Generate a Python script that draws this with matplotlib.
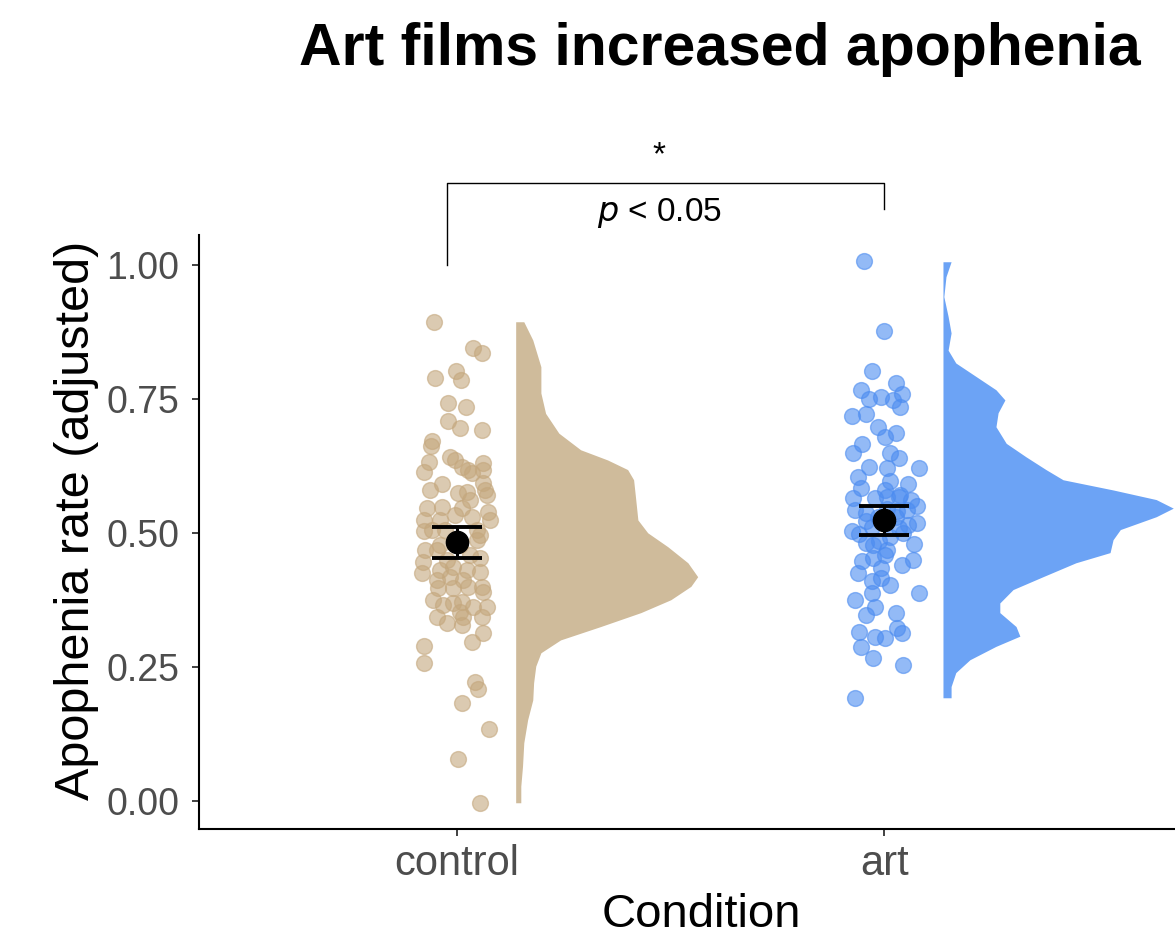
#!/usr/bin/env python3
# -*- coding: utf-8 -*-
"""
Raincloud plot: apophenia rate (adjusted) per condition, with jittered points,
mean +/- error bars and a half density to the right of each group.
"""
#%%
import numpy as np
import matplotlib.pyplot as plt

#%%
"""
Dados
"""
conditions = ["control", "art"]

# pontos individuais: valor e deslocamento do jitter (em unidades do eixo x)
control_vals = [0.894, 0.845, 0.836, 0.802, 0.789, 0.785, 0.743, 0.735, 0.709, 0.696,
                0.692, 0.672, 0.662, 0.632, 0.614, 0.642, 0.636, 0.623, 0.618, 0.612,
                0.631, 0.618, 0.593, 0.580, 0.571, 0.591, 0.575, 0.576, 0.547, 0.549,
                0.547, 0.539, 0.524, 0.524, 0.530, 0.524, 0.504, 0.506, 0.496, 0.487,
                0.478, 0.468, 0.468, 0.446, 0.453, 0.431, 0.437, 0.425, 0.431, 0.427,
                0.412, 0.418, 0.412, 0.397, 0.397, 0.399, 0.399, 0.390, 0.375, 0.366,
                0.369, 0.371, 0.362, 0.362, 0.343, 0.353, 0.343, 0.343, 0.332, 0.328,
                0.313, 0.289, 0.297, 0.257, 0.222, 0.209, 0.183, 0.134, 0.078, -0.004,
                0.506, 0.534, 0.580, 0.459, 0.450, 0.478, 0.506, 0.562]
control_jit = [-0.054, 0.037, 0.059, -0.002, -0.052, 0.009, -0.021, 0.021, -0.021, 0.007,
               0.059, -0.059, -0.061, -0.066, -0.077, -0.016, -0.005, 0.012, 0.026, 0.035,
               0.061, 0.061, 0.061, 0.066, 0.070, -0.035, 0.002, 0.023, -0.070, -0.035,
               0.012, 0.073, -0.077, -0.040, 0.035, 0.077, -0.077, 0.047, 0.054, 0.047,
               -0.040, -0.075, -0.047, -0.080, 0.054, -0.040, -0.009, -0.082, 0.023, 0.054,
               -0.047, -0.016, 0.014, -0.044, -0.009, 0.026, 0.059, 0.061, -0.056, -0.033,
               -0.009, 0.012, 0.037, 0.070, -0.047, 0.007, 0.014, 0.059, -0.023, 0.012,
               0.061, -0.077, 0.035, -0.077, 0.042, 0.049, 0.012, 0.075, 0.002, 0.054,
               -0.028, -0.005, -0.063, 0.030, -0.023, 0.007, -0.059, 0.030]

art_vals = [1.007, 0.877, 0.802, 0.767, 0.780, 0.750, 0.754, 0.748, 0.759, 0.735,
            0.718, 0.722, 0.698, 0.679, 0.687, 0.666, 0.649, 0.649, 0.640, 0.623,
            0.621, 0.621, 0.604, 0.597, 0.591, 0.584, 0.580, 0.565, 0.565, 0.567,
            0.562, 0.543, 0.537, 0.550, 0.543, 0.519, 0.515, 0.504, 0.522, 0.481,
            0.500, 0.479, 0.468, 0.448, 0.459, 0.440, 0.453, 0.424, 0.410, 0.416,
            0.403, 0.388, 0.388, 0.375, 0.362, 0.347, 0.351, 0.315, 0.306, 0.304,
            0.323, 0.313, 0.287, 0.267, 0.254, 0.192, 0.435, 0.450, 0.571, 0.567,
            0.530, 0.530, 0.511, 0.493, 0.485, 0.545, 0.509, 0.540, 0.477, 0.498]
art_jit = [-0.047, -0.002, -0.028, -0.056, 0.026, -0.037, -0.007, 0.019, 0.040, 0.037,
           -0.077, -0.044, -0.016, 0.002, 0.028, -0.052, -0.073, 0.014, 0.033, -0.035,
           0.007, 0.080, -0.063, 0.014, 0.054, -0.056, 0.002, -0.073, -0.021, 0.033,
           0.061, -0.068, -0.042, 0.077, 0.052, 0.077, 0.056, -0.075, -0.044, -0.044,
           0.044, 0.070, 0.005, -0.052, 0.002, 0.042, -0.026, -0.061, -0.030, -0.009,
           0.014, -0.028, 0.080, -0.068, -0.023, -0.042, 0.026, -0.059, -0.021, 0.002,
           0.030, 0.042, -0.056, -0.026, 0.044, -0.070, -0.009, 0.068, 0.037, 0.007,
           -0.014, 0.026, -0.030, 0.014, -0.012, 0.005, 0.033, 0.030, -0.026, -0.060]

# média e barras de erro
means = [0.483, 0.524]
err_low = [0.453, 0.496]
err_high = [0.511, 0.550]

# perfil das densidades (nível y, largura em unidades do eixo x)
control_dens_y = [0.894, 0.860, 0.810, 0.761, 0.723, 0.686, 0.655, 0.636, 0.618, 0.599,
                  0.562, 0.524, 0.500, 0.474, 0.444, 0.418, 0.400, 0.375, 0.351, 0.325,
                  0.300, 0.276, 0.251, 0.220, 0.188, 0.151, 0.108, 0.064, 0.027, -0.004]
control_dens_w = [0.019, 0.040, 0.059, 0.059, 0.070, 0.101, 0.152, 0.215, 0.262, 0.276,
                  0.281, 0.286, 0.309, 0.356, 0.403, 0.426, 0.410, 0.363, 0.293, 0.199,
                  0.105, 0.059, 0.047, 0.042, 0.040, 0.028, 0.019, 0.016, 0.012, 0.012]

art_dens_y = [1.006, 0.978, 0.941, 0.904, 0.873, 0.841, 0.817, 0.792, 0.767, 0.748,
              0.724, 0.698, 0.667, 0.642, 0.618, 0.599, 0.580, 0.562, 0.546, 0.530,
              0.506, 0.487, 0.463, 0.444, 0.418, 0.394, 0.369, 0.351, 0.325, 0.307,
              0.288, 0.263, 0.239, 0.213, 0.192]
art_dens_w = [0.019, 0.007, 0.002, 0.012, 0.019, 0.012, 0.030, 0.077, 0.124, 0.145,
              0.129, 0.124, 0.148, 0.194, 0.241, 0.281, 0.398, 0.499, 0.539, 0.499,
              0.415, 0.398, 0.391, 0.311, 0.234, 0.164, 0.133, 0.133, 0.171, 0.180,
              0.124, 0.063, 0.030, 0.019, 0.019]

#%%
"""
Estilo
"""
plt.rcParams['font.family'] = ['Liberation Sans', 'DejaVu Sans']

point_colors = ["#C4A77D", "#4C8CF0"]
dens_colors = ["#CFBB9B", "#6CA3F5"]
dens_offset = 0.137   # distância entre o grupo e a base da densidade

fig = plt.figure(figsize=(11.75, 9.38), dpi=100)
ax = fig.add_axes([0.1694, 0.1162, 0.8306, 0.6333])

#%%
groups = [(control_vals, control_jit, control_dens_y, control_dens_w),
          (art_vals, art_jit, art_dens_y, art_dens_w)]

for i, (vals, jit, dy, dw) in enumerate(groups):
    pos = i + 1
    base = pos + dens_offset
    # meia densidade
    ax.fill_betweenx(dy, base, base + np.array(dw), color=dens_colors[i], lw=0, zorder=1)
    # pontos com jitter
    ax.scatter(pos + np.array(jit), vals, s=130, color=point_colors[i], alpha=0.6,
               edgecolors=point_colors[i], linewidths=1.0, zorder=2)

# média +/- erro
for i in range(2):
    pos = i + 1
    ax.errorbar(pos, means[i],
                yerr=[[means[i] - err_low[i]], [err_high[i] - means[i]]],
                fmt='o', color='black', ms=16, elinewidth=2.2, capsize=18,
                capthick=2.8, zorder=4)

#%%
"""
Eixos
"""
ax.set_xlim(0.396, 2.68)
ax.set_ylim(-0.053, 1.056)
ax.set_xticks([1, 2])
ax.set_xticklabels(conditions)
ax.set_yticks([0, 0.25, 0.5, 0.75, 1.0])
ax.set_yticklabels(["0.00", "0.25", "0.50", "0.75", "1.00"])
ax.tick_params(axis='both', labelcolor='#4D4D4D', color='#333333', length=5, width=1.3)
ax.tick_params(axis='x', labelsize=30, pad=6)
ax.tick_params(axis='y', labelsize=27, pad=9)
for s in ['top', 'right']:
    ax.spines[s].set_visible(False)
for s in ['left', 'bottom']:
    ax.spines[s].set_linewidth(1.5)

ax.set_xlabel("Condition", fontsize=34)
ax.set_ylabel("Apophenia rate (adjusted)", fontsize=35)
ax.xaxis.set_label_coords(0.515, -0.107)
ax.yaxis.set_label_coords(-0.102, 0.52)

#%%
"""
Comparação e título
"""
bx0, bx1 = 0.977, 1.998
ax.plot([bx0, bx0, bx1, bx1], [1.0, 1.153, 1.153, 1.104], color='black', lw=1.0,
        clip_on=False)
ax.text(1.473, 1.203, "*", ha='center', va='center', fontsize=24, clip_on=False)
ax.text(1.473, 1.097, r"$\it{p}$ < 0.05", ha='center', va='center',
        fontsize=24, clip_on=False)

fig.text(0.613, 0.947, "Art films increased apophenia", ha='center', va='center',
         fontsize=42.5, fontweight='bold')

fig.savefig("out.png", dpi=100)
